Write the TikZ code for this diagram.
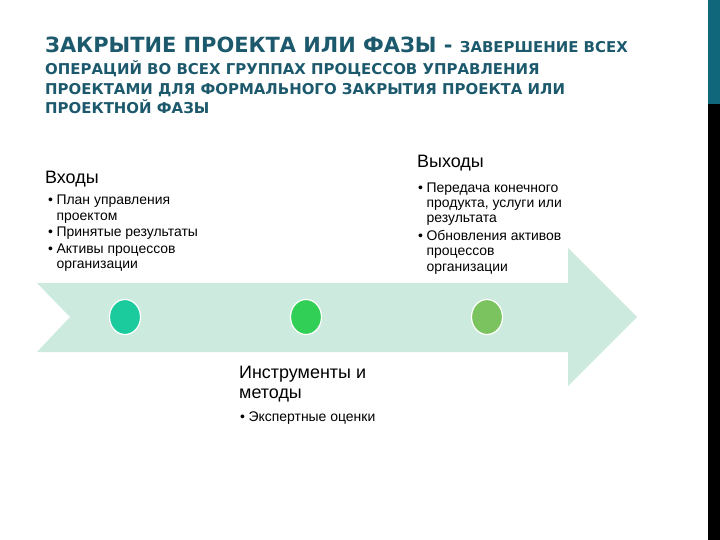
\documentclass[tikz,border=0pt]{standalone}
\usepackage{fontspec}
\setmainfont{Liberation Sans}
\newfontfamily\titlefont{DejaVu Sans}
\usetikzlibrary{positioning,shapes.geometric}

\definecolor{titleteal}{HTML}{1D596C}
\definecolor{barteal}{HTML}{10667B}
\definecolor{arrowmint}{HTML}{CCEBDE}
\definecolor{dotone}{HTML}{1BCB9D}
\definecolor{dottwo}{HTML}{32CF57}
\definecolor{dotthree}{HTML}{7BC35E}

\newcommand{\itm}{\textbullet\hspace{3.5pt}}
\newcommand{\cnt}{\hspace*{8.5pt}}

\begin{document}
\begin{tikzpicture}[x=1bp,y=-1bp]
	\useasboundingbox (0,0) rectangle (720,540);
	\tikzstyle{ProcDot}=[ellipse,draw=white,line width=1.2pt,minimum width=31bp,minimum height=35bp,inner sep=0pt]
	\tikzstyle{HeadText}=[anchor=base west,inner sep=0pt,font=\fontsize{18}{20}\selectfont]
	\tikzstyle{ListText}=[anchor=north west,inner sep=0pt,align=left,font=\fontsize{14}{15.3}\selectfont]
	% side bar
	\fill[barteal] (708,0) rectangle (720,104);
	\fill[black] (708,104) rectangle (720,540);
	% title
	\node[anchor=north west,inner sep=0pt,align=left,text=titleteal,font=\titlefont\bfseries\fontsize{15}{20}\selectfont] (title) at (45,37)
		{{\fontsize{21}{20}\selectfont ЗАКРЫТИЕ ПРОЕКТА ИЛИ ФАЗЫ - }ЗАВЕРШЕНИЕ ВСЕХ\\[1.5pt]
		ОПЕРАЦИЙ ВО ВСЕХ ГРУППАХ ПРОЦЕССОВ УПРАВЛЕНИЯ\\
		ПРОЕКТАМИ ДЛЯ ФОРМАЛЬНОГО ЗАКРЫТИЯ ПРОЕКТА ИЛИ\\
		ПРОЕКТНОЙ ФАЗЫ};
	% process arrow
	\fill[arrowmint] (37,283) -- (568,283) -- (568,248) -- (637,317) -- (568,386)
		-- (568,352) -- (37,352) -- (70,317) -- cycle;
	\node[ProcDot,fill=dotone] (dotIn) at (125,317) {};
	\node[ProcDot,fill=dottwo] (dotTools) at (306,317) {};
	\node[ProcDot,fill=dotthree] (dotOut) at (487,317) {};
	% inputs
	\node[HeadText] (inHead) at (45,183.5) {Входы};
	\node[ListText] (inList) at (48,195)
		{\itm План управления\\ \cnt проектом\\[1.5pt]
		\itm Принятые результаты\\[1.5pt]
		\itm Активы процессов\\ \cnt организации};
	% outputs
	\node[HeadText] (outHead) at (417,167.5) {Выходы};
	\node[ListText] (outList) at (418,182.5)
		{\itm Передача конечного\\ \cnt продукта, услуги или\\ \cnt результата\\[2.5pt]
		\itm Обновления активов\\ \cnt процессов\\ \cnt организации};
	% tools and methods
	\node[HeadText,anchor=north west,align=left] (toolHead) at (239,366)
		{Инструменты и\\ методы};
	\node[ListText] (toolList) at (240,412) {\itm Экспертные оценки};
\end{tikzpicture}
\end{document}
